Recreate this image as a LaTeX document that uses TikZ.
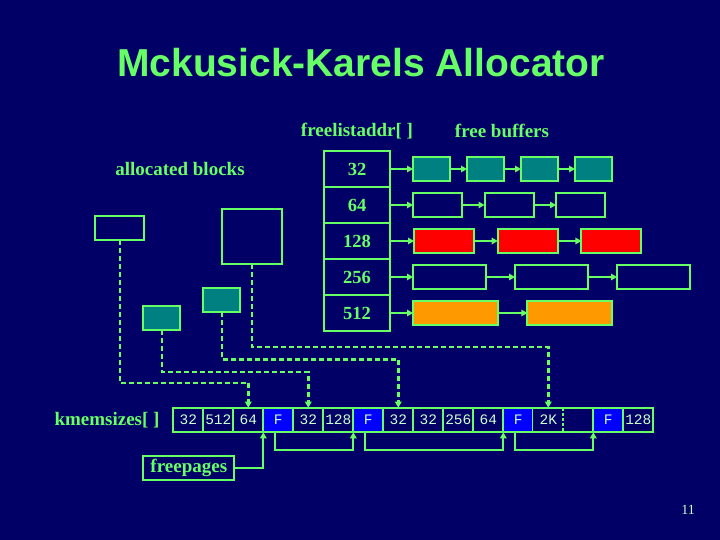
\documentclass[tikz,border=0pt]{standalone}
\usepackage{fontspec}
\setmainfont{Liberation Serif}
\newfontfamily\titlefont{Liberation Sans}
\newfontfamily\cellfont{Liberation Mono}
\usepackage{xcolor}
\usepackage{tikz}
\usetikzlibrary{arrows.meta, positioning, calc}
\definecolor{slidenavy}{RGB}{0,0,102}
\definecolor{slidegreen}{RGB}{102,255,102}
\definecolor{celltext}{RGB}{204,255,204}
\definecolor{bufteal}{RGB}{0,128,128}
\definecolor{bufred}{RGB}{255,0,0}
\definecolor{buforange}{RGB}{255,153,0}
\definecolor{freeblue}{RGB}{0,0,255}
\tikzset{
    addrcell/.style={rectangle, draw=slidegreen, line width=2pt, outer sep=0pt, minimum width=66pt, minimum height=36pt, font=\fontsize{18.5}{20}\selectfont\bfseries, text=slidegreen},
    bufbox/.style={rectangle, draw=slidegreen, fill=#1, line width=2pt, outer sep=0pt, inner sep=0pt, minimum height=24.6pt},
    bufbox/.default=slidenavy,
    sizecell/.style={rectangle, draw=slidegreen, fill=#1, line width=2pt, outer sep=0pt, inner sep=0pt, minimum width=30pt, minimum height=24.6pt, font=\cellfont\fontsize{14.5}{16}\selectfont, text=celltext},
    sizecell/.default=slidenavy,
    listarrow/.style={-{Triangle[length=6pt, width=6.5pt]}, slidegreen, line width=2pt},
    ptrarrow/.style={-{Triangle[length=6pt, width=6.5pt]}, slidegreen, line width=2.5pt, dash pattern=on 5pt off 3pt},
    slidelabel/.style={font=\fontsize{19}{21}\selectfont\bfseries, text=slidegreen}
}

\begin{document}
\begin{tikzpicture}[x=1pt, y=-1pt]

\fill[slidenavy] (0,0) rectangle (720,540);
\useasboundingbox (0,0) rectangle (720,540);

\node[font=\titlefont\fontsize{39}{42}\selectfont\bfseries, text=slidegreen] (title) at (361,63) {Mckusick-Karels Allocator};

\node[slidelabel] (addrlbl) at (357,131) {freelistaddr[ ]};
\node[slidelabel] (buflbl) at (502,131) {free buffers};
\node[slidelabel] (alloclbl) at (180,169) {allocated blocks};
\node[slidelabel] (sizelbl) at (107,420) {kmemsizes[ ]};

% freelistaddr column
\node[addrcell] (f32) at (357,169) {32};
\node[addrcell, below=0pt of f32] (f64) {64};
\node[addrcell, below=0pt of f64] (f128) {128};
\node[addrcell, below=0pt of f128] (f256) {256};
\node[addrcell, below=0pt of f256] (f512) {512};

% free buffer lists
\node[bufbox=bufteal, minimum width=37pt, right=23pt of f32] (b32a) {};
\node[bufbox=bufteal, minimum width=37pt, right=17pt of b32a] (b32b) {};
\node[bufbox=bufteal, minimum width=37pt, right=17pt of b32b] (b32c) {};
\node[bufbox=bufteal, minimum width=37pt, right=17pt of b32c] (b32d) {};

\node[bufbox, minimum width=49pt, right=23pt of f64] (b64a) {};
\node[bufbox, minimum width=49pt, right=22.5pt of b64a] (b64b) {};
\node[bufbox, minimum width=49pt, right=22.5pt of b64b] (b64c) {};

\node[bufbox=bufred, minimum width=60pt, right=24pt of f128] (b128a) {};
\node[bufbox=bufred, minimum width=60pt, right=23.7pt of b128a] (b128b) {};
\node[bufbox=bufred, minimum width=60pt, right=23.7pt of b128b] (b128c) {};

\node[bufbox, minimum width=73pt, right=23pt of f256] (b256a) {};
\node[bufbox, minimum width=73pt, right=29pt of b256a] (b256b) {};
\node[bufbox, minimum width=73pt, right=29pt of b256b] (b256c) {};

\node[bufbox=buforange, minimum width=85pt, right=23pt of f512] (b512a) {};
\node[bufbox=buforange, minimum width=85pt, right=29.4pt of b512a] (b512b) {};

\draw[listarrow] (f32) -- (b32a);
\draw[listarrow] (b32a) -- (b32b);
\draw[listarrow] (b32b) -- (b32c);
\draw[listarrow] (b32c) -- (b32d);
\draw[listarrow] (f64) -- (b64a);
\draw[listarrow] (b64a) -- (b64b);
\draw[listarrow] (b64b) -- (b64c);
\draw[listarrow] (f128) -- (b128a);
\draw[listarrow] (b128a) -- (b128b);
\draw[listarrow] (b128b) -- (b128c);
\draw[listarrow] (f256) -- (b256a);
\draw[listarrow] (b256a) -- (b256b);
\draw[listarrow] (b256b) -- (b256c);
\draw[listarrow] (f512) -- (b512a);
\draw[listarrow] (b512a) -- (b512b);

% allocated blocks
\node[bufbox, minimum width=49pt, minimum height=24.3pt] (blka) at (119.8,227.8) {};
\node[bufbox, minimum width=60.6pt, minimum height=54.7pt] (blkb) at (252,236.7) {};
\node[bufbox=bufteal, minimum width=37pt] (blkc) at (161.8,317.8) {};
\node[bufbox=bufteal, minimum width=37pt] (blkd) at (221.8,300) {};

% kmemsizes row
\node[sizecell] (k1) at (188.3,420) {32};
\node[sizecell, right=0pt of k1] (k2) {512};
\node[sizecell, right=0pt of k2] (k3) {64};
\node[sizecell=freeblue, right=0pt of k3] (k4) {F};
\node[sizecell, right=0pt of k4] (k5) {32};
\node[sizecell, right=0pt of k5] (k6) {128};
\node[sizecell=freeblue, right=0pt of k6] (k7) {F};
\node[sizecell, right=0pt of k7] (k8) {32};
\node[sizecell, right=0pt of k8] (k9) {32};
\node[sizecell, right=0pt of k9] (k10) {256};
\node[sizecell, right=0pt of k10] (k11) {64};
\node[sizecell=freeblue, right=0pt of k11] (k12) {F};
\node[sizecell, draw=none, right=0pt of k12] (k13) {2K};
\node[sizecell, draw=none, right=0pt of k13] (k14) {};
\node[sizecell=freeblue, right=0pt of k14] (k15) {F};
\node[sizecell, right=0pt of k15] (k16) {128};
\draw[slidegreen, line width=2pt] (k12.north east) -- (k15.north west);
\draw[slidegreen, line width=2pt] (k12.south east) -- (k15.south west);
\draw[slidegreen, line width=2pt, dash pattern=on 3pt off 2pt] (k13.north east) -- (k13.south east);

\draw[ptrarrow] (blka.south) -- ++(0,143) -| (k3.north);
\draw[ptrarrow] (blkc.south) -- ++(0,42) -| (k5.north);
\draw[ptrarrow] (blkd.south) -- ++(0,47) -| (k8.north);
\draw[ptrarrow] (blkb.south) -- ++(0,83) -| (k13.north);

% freepages chain
\node[bufbox, minimum width=91pt, minimum height=24.3pt, slidelabel] (fp) at (188.8,467.8) {freepages};
\draw[listarrow] (fp.east) -| (k4.south west);
\draw[listarrow] ($(k4.south)+(-3,0)$) -- ++(0,18) -| (k7.south west);
\draw[listarrow] ($(k7.south)+(-3,0)$) -- ++(0,18) -| (k12.south west);
\draw[listarrow] ($(k12.south)+(-3,0)$) -- ++(0,18) -| (k15.south west);

\node[font=\fontsize{14}{16}\selectfont, text=celltext] (pageno) at (688,510) {11};

\end{tikzpicture}
\end{document}
